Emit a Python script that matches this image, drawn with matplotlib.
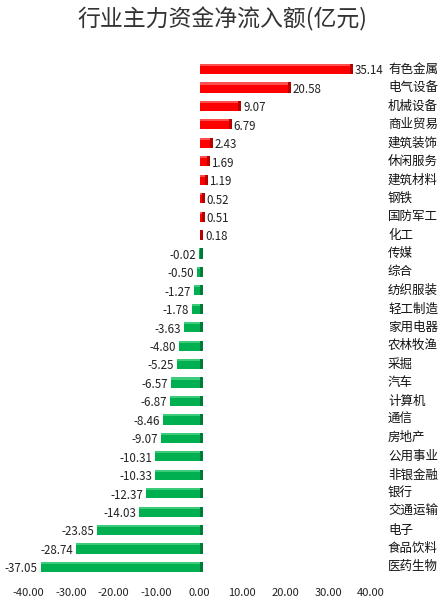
import matplotlib
matplotlib.use("Agg")
import matplotlib.pyplot as plt
import matplotlib.transforms as mtransforms

plt.rcParams['font.family'] = ['Noto Sans CJK SC', 'DejaVu Sans']

# industry names, top to bottom
industries = ["有色金属", "电气设备", "机械设备", "商业贸易", "建筑装饰", "休闲服务",
              "建筑材料", "钢铁", "国防军工", "化工", "传媒", "综合", "纺织服装",
              "轻工制造", "家用电器", "农林牧渔", "采掘", "汽车", "计算机", "通信",
              "房地产", "公用事业", "非银金融", "银行", "交通运输", "电子",
              "食品饮料", "医药生物"]
# net inflow, 100 million yuan
inflow = [35.14, 20.58, 9.07, 6.79, 2.43, 1.69, 1.19, 0.52, 0.51, 0.18,
          -0.02, -0.50, -1.27, -1.78, -3.63, -4.80, -5.25, -6.57, -6.87, -8.46,
          -9.07, -10.31, -10.33, -12.37, -14.03, -23.85, -28.74, -37.05]
xticks = [-40, -30, -20, -10, 0, 10, 20, 30, 40]

fig = plt.figure(figsize=(4.44, 6.11), dpi=100)
ax = fig.add_axes([0.0631, 0.054, 0.7725, 0.851])

depth = 0.7  # fake 3d side face, data units
ypos = list(range(len(industries)))
for y, v in zip(ypos, inflow):
    if v >= 0:
        front, side, top = "#FF0000", "#B80000", "#FF5050"
    else:
        front, side, top = "#00B050", "#007A38", "#3CCB7A"
    lo, hi = min(0, v), max(0, v)
    ax.barh(y, hi - lo, left=lo, height=0.55, color=front, linewidth=0, zorder=2)
    ax.barh(y - 0.22, hi - lo, left=lo, height=0.11, color=top, linewidth=0, zorder=3)
    ax.barh(y, depth, left=hi, height=0.55, color=side, linewidth=0, zorder=3)
    if v >= 0:
        ax.text(hi + depth + 0.4, y + 0.1, f"{v:.2f}", ha="left", va="center",
                fontsize=8.3, color="#222222")
    else:
        ax.text(lo - 0.7, y + 0.1, f"{v:.2f}", ha="right", va="center",
                fontsize=8.3, color="#222222")

# category names on the right
trans = mtransforms.blended_transform_factory(ax.transAxes, ax.transData)
for y, name in zip(ypos, industries):
    ax.text(1.0496, y, name, transform=trans, ha="left", va="center",
            fontsize=9, color="#111111")

ax.set_xlim(-40, 40)
ax.set_ylim(len(industries) - 1 + 0.6, -0.6)
ax.set_xticks(xticks)
ax.set_xticklabels([f"{t:.2f}" for t in xticks], fontsize=8, color="#222222")
ax.tick_params(axis="x", length=0, pad=7)
ax.set_yticks([])
for s in ax.spines.values():
    s.set_visible(False)

fig.text(0.5, 0.968, "行业主力资金净流入额(亿元)", ha="center", va="center",
         fontsize=16.5, color="#333333", fontweight="light")

fig.savefig("out.png", dpi=100)
